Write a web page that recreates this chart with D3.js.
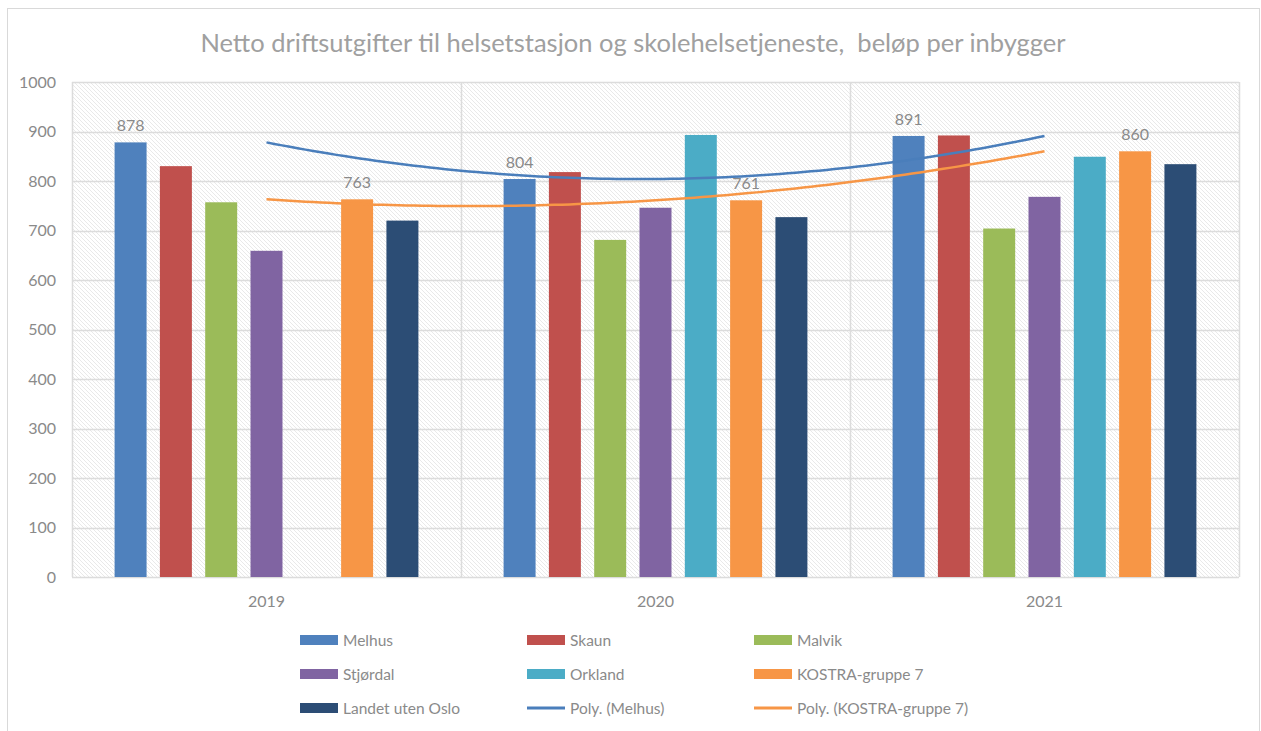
<!DOCTYPE html>
<html>
<head>
<meta charset="utf-8">
<script src="https://cdn.jsdelivr.net/npm/d3@7"></script>
<style>
  body { margin: 0; background: #fff; }
  svg text { font-family: Lato, "Open Sans", sans-serif; }
</style>
</head>
<body>
<div id="chart"></div>
<script>
// data
var years = ["2019", "2020", "2021"];
var seriesNames = ["Melhus", "Skaun", "Malvik", "Stjørdal", "Orkland", "KOSTRA-gruppe 7", "Landet uten Oslo"];
var melhus = [878, 804, 891];
var skaun = [830, 818, 892];
var malvik = [757, 681, 704];
var stjordal = [659, 746, 768];
var orkland = [null, 893, 849];
var kostra = [763, 761, 860];
var landet = [720, 727, 834];
var yTicks = [0, 100, 200, 300, 400, 500, 600, 700, 800, 900, 1000];

var seriesValues = [melhus, skaun, malvik, stjordal, orkland, kostra, landet];
var colors = ["#4f81bd", "#c0504d", "#9bbb59", "#8064a2", "#4bacc6", "#f79646", "#2c4d75"];
var labelled = [0, 5]; // Melhus and KOSTRA get value labels + trendlines

var W = 1261, H = 731;
var plot = { left: 72, right: 1239, top: 82, bottom: 577 };

var svg = d3.select("#chart").append("svg")
    .attr("width", W)
    .attr("height", H);

// hatch pattern for the plot area
var defs = svg.append("defs");
var pat = defs.append("pattern")
    .attr("id", "hatch")
    .attr("patternUnits", "userSpaceOnUse")
    .attr("width", 4)
    .attr("height", 4);
pat.append("rect").attr("width", 4).attr("height", 4).attr("fill", "#fff");
pat.append("path")
    .attr("d", "M-1,-1 L5,5 M-1,3 L1,5 M3,-1 L5,1")
    .attr("stroke", "#e9e9e9")
    .attr("stroke-width", 1);

// chart frame
svg.append("rect")
    .attr("x", 7.5).attr("y", 8.5)
    .attr("width", 1252).attr("height", 740)
    .attr("fill", "#fff")
    .attr("stroke", "#d9d9d9");

svg.append("text")
    .text("Netto driftsutgifter til helsetstasjon og skolehelsetjeneste,  beløp per inbygger")
    .attr("x", 633)
    .attr("y", 52)
    .attr("text-anchor", "middle")
    .attr("font-size", 25.5)
    .attr("fill", "#a0a0a0")
    .style("white-space", "pre");

var x0 = d3.scaleBand().domain(years).range([plot.left, plot.right]);
var x1 = d3.scaleBand().domain(d3.range(seriesNames.length))
    .range([0, x0.bandwidth()])
    .paddingInner(0.294)
    .paddingOuter(0.94);
var y = d3.scaleLinear().domain([0, 1000]).range([plot.bottom, plot.top]);

svg.append("rect")
    .attr("x", plot.left).attr("y", plot.top)
    .attr("width", plot.right - plot.left)
    .attr("height", plot.bottom - plot.top)
    .attr("fill", "url(#hatch)");

// gridlines
svg.append("g")
    .selectAll("line")
    .data(yTicks)
    .enter()
    .append("line")
    .attr("x1", plot.left).attr("x2", plot.right)
    .attr("y1", function(d){ return Math.round(y(d)) + 0.5; })
    .attr("y2", function(d){ return Math.round(y(d)) + 0.5; })
    .attr("stroke", "#dcdcdc")
    .attr("stroke-width", 1.5);

// category dividers
svg.append("g")
    .selectAll("line")
    .data(years.concat(["end"]))
    .enter()
    .append("line")
    .attr("x1", function(d, i){ return Math.round(plot.left + i * x0.bandwidth()) + 0.5; })
    .attr("x2", function(d, i){ return Math.round(plot.left + i * x0.bandwidth()) + 0.5; })
    .attr("y1", plot.top).attr("y2", plot.bottom)
    .attr("stroke", "#dcdcdc")
    .attr("stroke-width", 1.5);

// y axis labels
var yAxis = svg.append("g")
    .attr("transform", "translate(" + plot.left + ",0)")
    .call(d3.axisLeft(y).tickValues(yTicks).tickFormat(d3.format("d")).tickSize(0).tickPadding(16));
yAxis.select(".domain").remove();
yAxis.selectAll("text")
    .attr("font-size", 16)
    .attr("fill", "#8a8a8a")
    .attr("font-family", "Lato, sans-serif");

// x axis labels
var xAxis = svg.append("g")
    .attr("transform", "translate(0," + plot.bottom + ")")
    .call(d3.axisBottom(x0).tickSize(0).tickPadding(19));
xAxis.select(".domain").remove();
xAxis.selectAll("text")
    .attr("font-size", 16)
    .attr("fill", "#8a8a8a")
    .attr("font-family", "Lato, sans-serif");

// bars
var barData = [];
years.forEach(function(yr, yi){
    seriesValues.forEach(function(vals, si){
        if (vals[yi] != null) barData.push({ year: yr, s: si, v: vals[yi] });
    });
});

svg.append("g")
    .selectAll("rect")
    .data(barData)
    .enter()
    .append("rect")
    .attr("x", function(d){ return x0(d.year) + x1(d.s); })
    .attr("y", function(d){ return y(d.v); })
    .attr("width", x1.bandwidth())
    .attr("height", function(d){ return y(0) - y(d.v); })
    .attr("fill", function(d){ return colors[d.s]; });

// value labels
svg.append("g")
    .selectAll("text")
    .data(barData.filter(function(d){ return labelled.indexOf(d.s) >= 0; }))
    .enter()
    .append("text")
    .text(function(d){ return d.v; })
    .attr("x", function(d){ return x0(d.year) + x1(d.s) + x1.bandwidth() / 2; })
    .attr("y", function(d){ return y(d.v) - 11; })
    .attr("text-anchor", "middle")
    .attr("font-size", 16)
    .attr("fill", "#8a8a8a");

// polynomial (order 2) trendlines through category centres
function quad(vals){
    return function(t){
        return vals[0] * (t - 1) * (t - 2) / 2
             - vals[1] * t * (t - 2)
             + vals[2] * t * (t - 1) / 2;
    };
}
var trendColors = ["#4a7ebb", "#f79646"];
var line = d3.line()
    .x(function(d){ return x0(years[0]) + x0.bandwidth() / 2 + d.t * x0.bandwidth(); })
    .y(function(d){ return y(d.v); });

labelled.forEach(function(si, k){
    var f = quad(seriesValues[si]);
    var pts = d3.range(0, 2.0001, 0.02).map(function(t){ return { t: t, v: f(t) }; });
    svg.append("path")
        .attr("d", line(pts))
        .attr("fill", "none")
        .attr("stroke", trendColors[k])
        .attr("stroke-width", 2.5);
});

// legend
var legendItems = seriesNames.map(function(n, i){ return { name: n, color: colors[i], type: "bar" }; });
legendItems.push({ name: "Poly. (Melhus)", color: trendColors[0], type: "line" });
legendItems.push({ name: "Poly. (KOSTRA-gruppe 7)", color: trendColors[1], type: "line" });

var leg = svg.append("g")
    .selectAll("g")
    .data(legendItems)
    .enter()
    .append("g")
    .attr("transform", function(d, i){
        return "translate(" + (300 + (i % 3) * 227) + "," + (640 + Math.floor(i / 3) * 34) + ")";
    });

leg.filter(function(d){ return d.type == "bar"; })
    .append("rect")
    .attr("x", 0).attr("y", -5)
    .attr("width", 38).attr("height", 10)
    .attr("fill", function(d){ return d.color; });

leg.filter(function(d){ return d.type == "line"; })
    .append("line")
    .attr("x1", 0).attr("x2", 38)
    .attr("y1", 0).attr("y2", 0)
    .attr("stroke", function(d){ return d.color; })
    .attr("stroke-width", 3);

leg.append("text")
    .text(function(d){ return d.name; })
    .attr("x", 43)
    .attr("y", 6)
    .attr("font-size", 15.5)
    .attr("fill", "#8a8a8a");
</script>
</body>
</html>
